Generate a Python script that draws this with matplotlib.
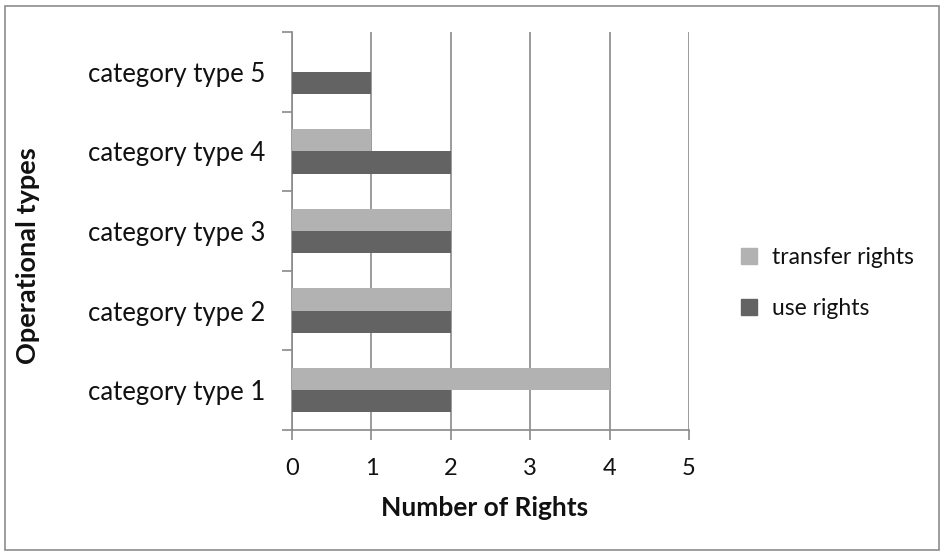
import numpy as np
import matplotlib.pyplot as plt
from matplotlib.patches import Rectangle, Patch

categories = ["category type 1", "category type 2", "category type 3",
              "category type 4", "category type 5"]
transfer_rights = [4, 2, 2, 1, 0]
use_rights = [2, 2, 2, 2, 1]
x_ticks = [0, 1, 2, 3, 4, 5]

LIGHT = "#b2b2b2"
DARK = "#636363"
GRID = "#8a8a8a"
TEXT = "#111111"
FONT = ["Lato", "DejaVu Sans"]

plt.rcParams["font.family"] = FONT
plt.rcParams["text.color"] = TEXT

fig = plt.figure(figsize=(9.44, 5.55), dpi=100)
ax = fig.add_axes([292 / 944, 125 / 555, 397 / 944, 398 / 555])

y = np.arange(len(categories))
h = 0.28
ax.barh(y + h / 2, transfer_rights, height=h, color=LIGHT, label="transfer rights", zorder=3)
ax.barh(y - h / 2, use_rights, height=h, color=DARK, label="use rights", zorder=3)

ax.set_xlim(0, 5)
ax.set_ylim(-0.5, len(categories) - 0.5)
ax.set_xticks(x_ticks)
ax.set_xticklabels([str(t) for t in x_ticks], fontsize=17, color=TEXT)
ax.set_yticks(y)
ax.set_yticklabels(categories, fontsize=18.5, color=TEXT)
ax.set_yticks(np.arange(len(categories) + 1) - 0.5, minor=True)

ax.tick_params(axis="y", which="major", length=0, pad=19)
ax.tick_params(axis="y", which="minor", length=7, color=GRID, width=1.2)
ax.tick_params(axis="x", length=7, color=GRID, width=1.2, pad=13)

ax.xaxis.grid(True, color=GRID, linewidth=1.2, zorder=1)
ax.set_axisbelow(True)
for s in ["top", "right"]:
    ax.spines[s].set_visible(False)
for s in ["left", "bottom"]:
    ax.spines[s].set_color(GRID)
    ax.spines[s].set_linewidth(1.2)

fig.text(485 / 944, 1 - 508 / 555, "Number of Rights", fontsize=19, fontweight="bold",
         ha="center", va="center")
fig.text(28 / 944, 1 - 256 / 555, "Operational types", fontsize=19.5, fontweight="bold",
         ha="center", va="center", rotation=90)

handles = [Patch(color=LIGHT, label="transfer rights"), Patch(color=DARK, label="use rights")]
fig.legend(handles=handles, loc="center left", bbox_to_anchor=(720 / 944, 1 - 283 / 555),
           frameon=False, fontsize=16.5, handlelength=0.7, handleheight=0.7,
           labelspacing=1.3, handletextpad=0.65)

fig.patches.append(Rectangle((5 / 944, 5 / 555), 934 / 944, 544 / 555, transform=fig.transFigure,
                             fill=False, edgecolor="#8c8c8c", linewidth=1.2))

fig.savefig("out.png", dpi=100)
